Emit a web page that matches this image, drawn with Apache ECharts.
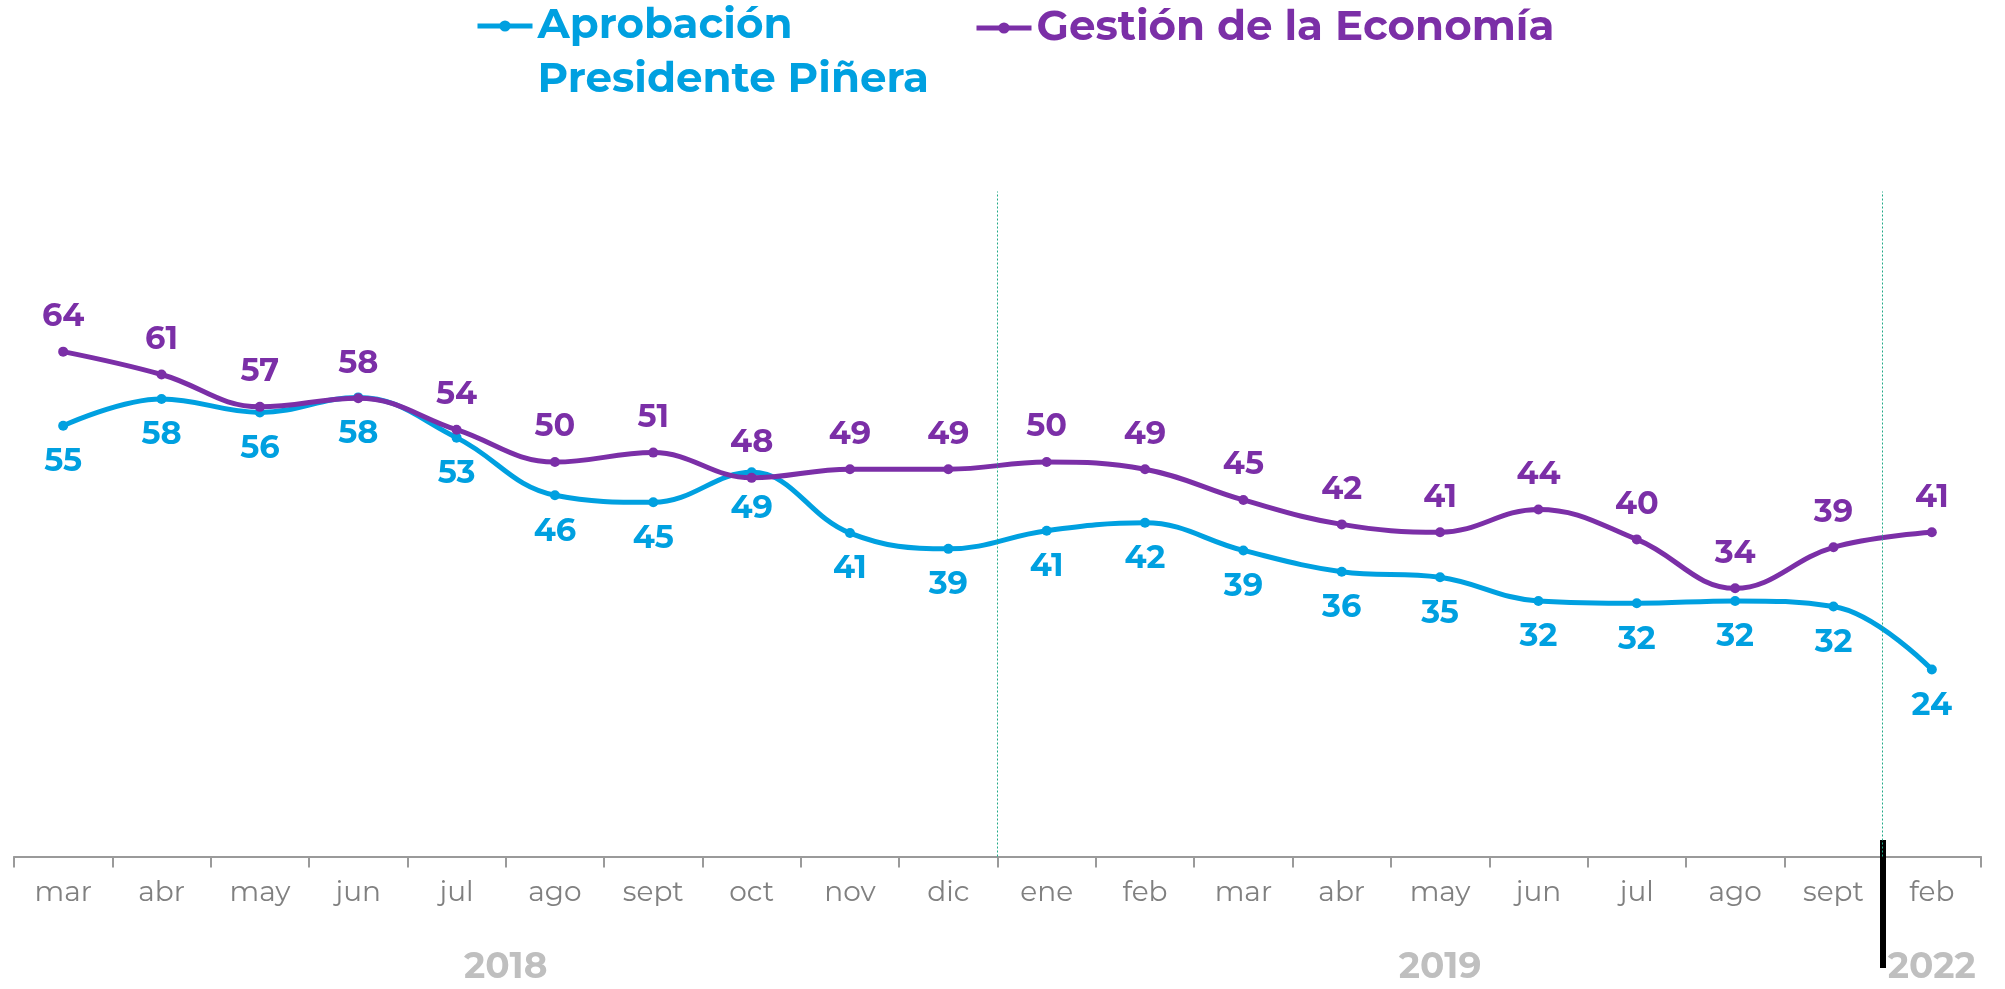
<!DOCTYPE html>
<html>
<head>
<meta charset="utf-8">
<script src="https://cdn.jsdelivr.net/npm/echarts@6/dist/echarts.min.js"></script>
<style>
html, body { margin: 0; padding: 0; background: #fff; }
#chart { width: 2005px; height: 989px; }
</style>
</head>
<body>
<div id="chart"></div>
<script>
// meses (eje x)
const months = ['mar', 'abr', 'may', 'jun', 'jul', 'ago', 'sept', 'oct', 'nov', 'dic',
  'ene', 'feb', 'mar', 'abr', 'may', 'jun', 'jul', 'ago', 'sept', 'feb'];
// Aprobación Presidente Piñera
const aprobacion = [54.6, 58.0, 56.3, 58.2, 53.1, 45.8, 44.9, 48.7, 41.0, 39.0,
  41.3, 42.3, 38.8, 36.1, 35.4, 32.4, 32.1, 32.4, 31.7, 23.7];
// Gestión de la Economía
const economia = [64.0, 61.1, 57.0, 58.1, 54.1, 50.0, 51.2, 48.0, 49.1, 49.1,
  50.0, 49.1, 45.2, 42.1, 41.1, 44.0, 40.2, 34.0, 39.2, 41.1];
// años: etiqueta, primer mes y fin (en índices de categoría)
const years = ['2018', '2019', '2022'];
const yearStart = [0, 10, 19];
const yearEnd = [10, 19, 20];

const BLUE = '#00a0e0';
const PURPLE = '#7b2fa7';
const FONT = 'Montserrat, "DejaVu Sans", sans-serif';

const chart = echarts.init(document.getElementById('chart'));

const yearMid = years.map((y, i) => (yearStart[i] + yearEnd[i]) / 2);

const dataLabel = (color, position, distance) => ({
  show: true,
  position: position,
  distance: distance,
  color: color,
  fontFamily: FONT,
  fontWeight: 'bold',
  fontSize: 32,
  formatter: (p) => Math.round(p.value),
});

const legendBase = {
  padding: 0,
  itemWidth: 55,
  itemHeight: 14,
  selectedMode: false,
  lineStyle: { width: 5 },
};

const option = {
  animation: false,
  backgroundColor: '#fff',
  legend: [
    Object.assign({}, legendBase, {
      data: ['Aprobación\nPresidente Piñera'],
      left: 475,
      top: -55,
      // línea vacía arriba para que el icono quede a la altura de la 1a línea
      formatter: (name) => ' \n' + name,
      textStyle: {
        color: BLUE,
        fontFamily: FONT,
        fontWeight: 'bold',
        fontSize: 42,
        lineHeight: 54,
      },
    }),
    Object.assign({}, legendBase, {
      data: ['Gestión de la Economía'],
      left: 974,
      top: 1,
      textStyle: {
        color: PURPLE,
        fontFamily: FONT,
        fontWeight: 'bold',
        fontSize: 42,
        lineHeight: 54,
      },
    }),
  ],
  grid: {
    left: 14,
    right: 24,
    top: 186,
    bottom: 132.5,
    containLabel: false,
    outerBoundsMode: 'none',
  },
  xAxis: [
    {
      type: 'category',
      data: months,
      boundaryGap: true,
      axisLine: { lineStyle: { color: '#9a9a9a', width: 2 } },
      axisTick: { show: true, interval: 0, length: 11, lineStyle: { color: '#9a9a9a', width: 2 } },
      axisLabel: {
        interval: 0,
        margin: 22,
        color: '#808080',
        fontFamily: FONT,
        fontSize: 28,
      },
      splitLine: { show: false },
    },
    {
      // años
      type: 'value',
      min: 0,
      max: months.length,
      position: 'bottom',
      offset: 85,
      axisLine: { show: false },
      axisTick: { show: false },
      splitLine: { show: false },
      axisLabel: {
        customValues: yearMid,
        formatter: (v) => years[yearMid.indexOf(v)],
        margin: 8,
        color: '#bfbfbf',
        fontFamily: FONT,
        fontWeight: 'bold',
        fontSize: 36,
      },
    },
    {
      // barra negra del salto 2019 -> 2022
      type: 'value',
      min: 0,
      max: months.length,
      position: 'bottom',
      offset: 111.5,
      axisLine: { show: false },
      axisLabel: { show: false },
      splitLine: { show: false },
      axisTick: {
        show: true,
        inside: true,
        customValues: [yearStart[2]],
        length: 128,
        lineStyle: { color: '#000', width: 6 },
      },
    },
  ],
  yAxis: {
    type: 'value',
    min: 0,
    max: 85,
    show: false,
    splitLine: { show: false },
  },
  series: [
    {
      name: 'Aprobación\nPresidente Piñera',
      type: 'line',
      data: aprobacion,
      smooth: 0.4,
      symbol: 'circle',
      symbolSize: 10,
      lineStyle: { color: BLUE, width: 5 },
      itemStyle: { color: BLUE },
      label: dataLabel(BLUE, 'bottom', 15),
      z: 3,
    },
    {
      name: 'Gestión de la Economía',
      type: 'line',
      data: economia,
      smooth: 0.4,
      symbol: 'circle',
      symbolSize: 10,
      lineStyle: { color: PURPLE, width: 5 },
      itemStyle: { color: PURPLE },
      label: dataLabel(PURPLE, 'top', 14),
      z: 4,
    },
    {
      // separadores punteados entre años
      name: 'sep',
      type: 'scatter',
      xAxisIndex: 1,
      yAxisIndex: 0,
      silent: true,
      data: [],
      markLine: {
        silent: true,
        symbol: ['none', 'none'],
        label: { show: false },
        lineStyle: { color: '#22aa88', width: 1, type: [2, 2] },
        data: yearStart.slice(1).map((x) => [
          { coord: [x, 0] },
          { coord: [x, 84.3] },
        ]),
      },
      z: 2,
    },
  ],
};

chart.setOption(option);
</script>
</body>
</html>
